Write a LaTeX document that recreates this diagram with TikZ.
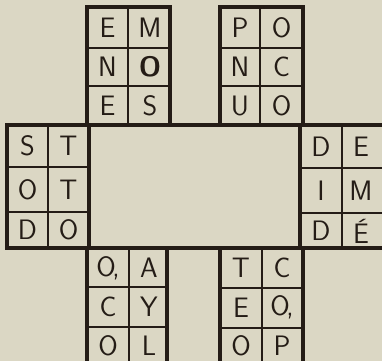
\documentclass[tikz,border=0pt]{standalone}
\usepackage{tikz}
\usetikzlibrary{positioning}
\definecolor{paper}{RGB}{219,215,196}
\definecolor{ink}{RGB}{36,28,22}
\newcommand{\accO}{O\kern-0.12em,}

\begin{document}
\begin{tikzpicture}[x=0.03cm, y=-0.03cm,
  letter/.style={text=ink, inner sep=0pt, font=\fontsize{24}{24}\selectfont\sffamily},
  frame/.style={draw=ink, line width=3.2pt, line join=miter},
  grid/.style={draw=ink, line width=2pt}]
  % Paper
  \fill[paper] (0,0) rectangle (382,361);
  \useasboundingbox (0,0) rectangle (382,361);

  % Draw cell lines
  \draw[grid] (128,7) -- (128,125) (87,48) -- (170,48) (87,86) -- (170,86);
  \draw[grid] (260,7) -- (260,125) (220,48) -- (303,48) (220,86) -- (303,86);
  \draw[grid] (48,125) -- (48,248) (7,167) -- (89,167) (7,212) -- (89,212);
  \draw[grid] (342,125) -- (342,248) (300,168) -- (384,168) (300,213) -- (384,213);
  \draw[grid] (129,248) -- (129,366) (87,287) -- (167,287) (87,327) -- (167,327);
  \draw[grid] (262,248) -- (262,366) (220,288) -- (303,288) (220,328) -- (303,328);

  % Draw frames
  \draw[frame] (87,7) rectangle (170,125);
  \draw[frame] (220,7) rectangle (303,125);
  \draw[frame] (7,125) rectangle (386,248);
  \draw[frame] (89,125) -- (89,248) (300,125) -- (300,248);
  \draw[frame] (87,248) rectangle (167,368);
  \draw[frame] (220,248) rectangle (303,368);

  % Define nodes
  \node[letter] (topa) at (107.5,27.5) {E};
  \node[letter] (topb) at (150,27.5) {M};
  \node[letter] (topc) at (107.5,67) {N};
  \node[letter, font=\fontsize{24}{24}\selectfont\sffamily\bfseries] (topd) at (150,67) {O};
  \node[letter] (tope) at (107.5,105.5) {E};
  \node[letter] (topf) at (150,105.5) {S};

  \node[letter] (toprighta) at (240,27.5) {P};
  \node[letter] (toprightb) at (281.5,27.5) {O};
  \node[letter] (toprightc) at (240,67) {N};
  \node[letter] (toprightd) at (281.5,67) {C};
  \node[letter] (toprighte) at (240,105.5) {U};
  \node[letter] (toprightf) at (281.5,105.5) {O};

  \node[letter] (lefta) at (27.5,146) {S};
  \node[letter] (leftb) at (68.5,146) {T};
  \node[letter] (leftc) at (27.5,189.5) {O};
  \node[letter] (leftd) at (68.5,189.5) {T};
  \node[letter] (lefte) at (27.5,230) {D};
  \node[letter] (leftf) at (68.5,230) {O};

  \node[letter] (righta) at (321,146.5) {D};
  \node[letter] (rightb) at (361,146.5) {E};
  \node[letter] (rightc) at (321,190.5) {I};
  \node[letter] (rightd) at (361,190.5) {M};
  \node[letter] (righte) at (321,231) {D};
  \node[letter] (rightf) at (361,231) {\'E};

  \node[letter] (bota) at (108,268) {\accO};
  \node[letter] (botb) at (149,268) {A};
  \node[letter] (botc) at (108,307) {C};
  \node[letter] (botd) at (149,307) {Y};
  \node[letter] (bote) at (108,346) {O};
  \node[letter] (botf) at (149,346) {L};

  \node[letter] (botrighta) at (241,268) {T};
  \node[letter] (botrightb) at (282,268) {C};
  \node[letter] (botrightc) at (241,307.5) {E};
  \node[letter] (botrightd) at (282,307.5) {\accO};
  \node[letter] (botrighte) at (241,346) {O};
  \node[letter] (botrightf) at (282,346) {P};
\end{tikzpicture}
\end{document}
